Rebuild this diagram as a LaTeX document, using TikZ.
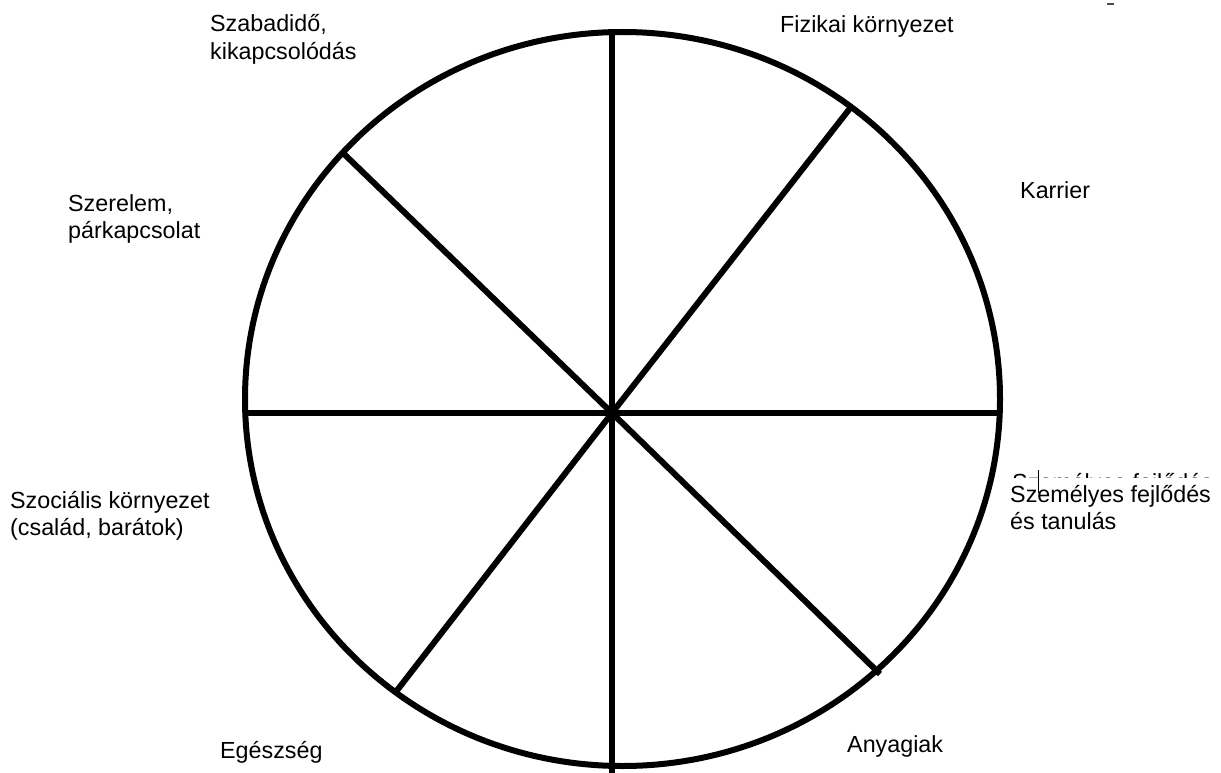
\documentclass[tikz,border=0pt]{standalone}
\usepackage{fontspec}
\setmainfont{Liberation Sans}
\newcommand{\lbfont}{\fontsize{23.3}{27.5}\selectfont}
\newcommand{\twolines}[2]{\begin{tabular}[t]{@{}l@{}}#1\\#2\end{tabular}}
\begin{document}
\begin{tikzpicture}[x=1pt,y=-1pt,
  rim/.style={line width=6pt},
  spoke/.style={line width=6pt},
  lbl/.style={anchor=base west, inner sep=0pt, font=\lbfont, text=black}]
\useasboundingbox (0,0) rectangle (1221,773);
\fill[white] (0,0) rectangle (1221,773);
% circle
\draw[rim] (622.5,399) ellipse [x radius=377.5pt, y radius=367pt];
% hub and rim points
\coordinate (c) at (612,413);
\coordinate (rT) at (612,32);
\coordinate (rB) at (612,773);
\coordinate (rL) at (245,413);
\coordinate (rR) at (1000,413);
\coordinate (rTR) at (851,107);
\coordinate (rTL) at (343,153);
\coordinate (rBL) at (395,693);
\coordinate (rBR) at (880,674);
\foreach \p in {rT,rB,rL,rR,rTR,rTL,rBL,rBR} \draw[spoke] (c) -- (\p);
% labels
\node[lbl] (fiz) at (780,33) {Fizikai környezet};
\node[lbl] (kar) at (1020,198) {Karrier};
\node[lbl] (szab) at (210,32) {\twolines{Szabadidő,}{kikapcsolódás}};
\node[lbl] (szer) at (68,211) {\twolines{Szerelem,}{párkapcsolat}};
\node[lbl] (szoc) at (10,508) {\twolines{Szociális környezet}{(család, barátok)}};
\node[lbl] (egesz) at (220,758) {Egészség};
\node[lbl] (anya) at (847,752) {Anyagiak};
\node[lbl] (szem) at (1010,502) {\twolines{Személyes fejlődés}{és tanulás}};
% ghost text partly hidden
\begin{scope}
\clip (1000,460) rectangle (1221,477.5);
\node[lbl] (ghost) at (1012,490) {Személyes fejlődés};
\end{scope}
% text cursor
\draw[line width=1pt] (1038,470) -- (1038,493);
% small mark
\draw[line width=1.5pt, black!70] (1107,4) -- (1114,4);
\end{tikzpicture}
\end{document}
